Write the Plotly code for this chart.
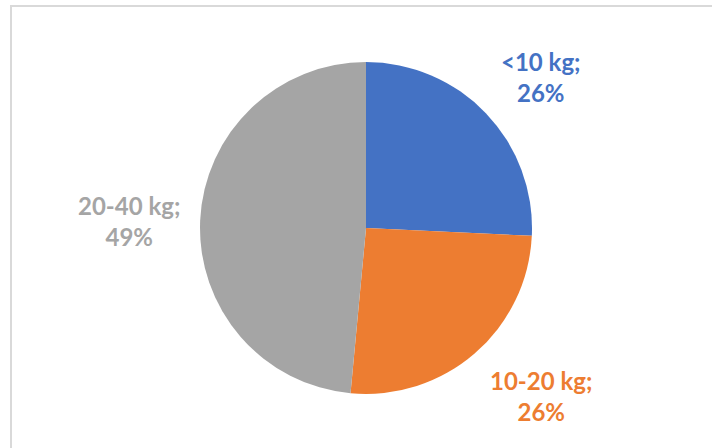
import plotly.graph_objects as go

# weight classes and counts
labels = ["<10 kg", "10-20 kg", "20-40 kg"]
values = [26, 26, 49]

COLORS = ["#4472C4", "#ED7D31", "#A5A5A5"]
W, H = 712, 448
# label centres in pixels (x, y from top)
LABEL_POS = [(541, 77), (541, 396), (129, 221)]
CX, CY, R = 366, 228, 166

fig = go.Figure()
fig.add_trace(go.Pie(
    labels=labels,
    values=values,
    sort=False,
    direction="clockwise",
    rotation=0,
    marker=dict(colors=COLORS, line=dict(width=0)),
    textinfo="none",
    hoverinfo="label+percent",
    showlegend=False,
    domain=dict(x=[(CX - R) / W, (CX + R) / W],
                y=[1 - (CY + R) / H, 1 - (CY - R) / H]),
))

total = sum(values)
for lab, val, col, (px, py) in zip(labels, values, COLORS, LABEL_POS):
    fig.add_annotation(
        x=px / W, y=1 - py / H, xref="paper", yref="paper",
        xanchor="center", yanchor="middle",
        text=f"<b>{lab};<br>{round(100 * val / total)}%</b>",
        showarrow=False, align="center",
        font=dict(family="Lato", size=24, color=col),
    )

# outer chart border (cropped at right and bottom)
fig.add_shape(type="rect", xref="paper", yref="paper",
              x0=11 / W, x1=1.05, y0=-0.05, y1=1 - 6 / H,
              line=dict(color="#D9D9D9", width=2), fillcolor="rgba(0,0,0,0)")

fig.update_layout(
    width=W, height=H,
    margin=dict(l=0, r=0, t=0, b=0),
    paper_bgcolor="white",
    plot_bgcolor="white",
)
# drop the default 8px body margin so the figure sits at the window corner
fig.write_html("out.html", config={"displayModeBar": False},
               post_script="document.body.style.margin='0';")
